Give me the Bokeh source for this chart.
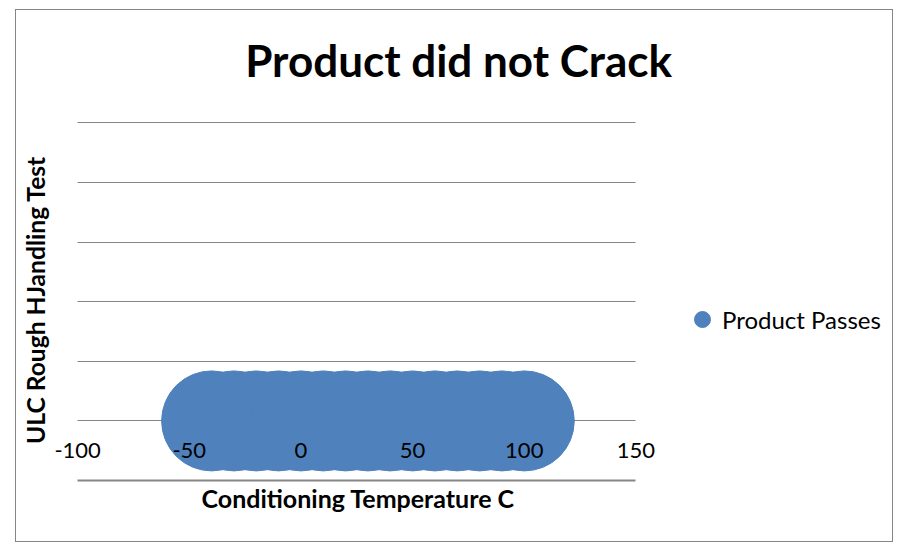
import math
from bokeh.plotting import figure
from bokeh.models import FixedTicker, Legend, LegendItem, Range1d, Label, Title
from bokeh.embed import file_html
from bokeh.resources import INLINE

# ---- data ----
temps = [-40, -30, -20, -10, 0, 10, 20, 30, 40, 50, 60, 70, 80, 90, 100]
passes = [0, 0, 0, 0, 0, 0, 0, 0, 0, 0, 0, 0, 0, 0, 0]
x_ticks = [-100, -50, 0, 50, 100, 150]
x_tick_labels = ["-100", "-50", "0", "50", "100", "150"]
y_grid = [-1, 0, 1, 2, 3, 4, 5]
x_bounds = (-100, 150)
y_bounds = (-1, 5)

title_text = "Product did not Crack"
x_title = "Conditioning Temperature C"
y_title = "ULC Rough HJandling Test"
series_name = "Product Passes"
FONT = "Lato"
BLUE = "#4F81BD"
GRAY = "#868686"

# the frame spans the chart area plus the title / legend space; axis and grid
# are bounded to the plot area itself
p = figure(width=878, height=533, output_backend="svg", toolbar_location=None,
           x_range=Range1d(-127.38, 265.8), y_range=Range1d(-1, 6.888),
           min_border_left=0, min_border_right=0,
           min_border_top=0, min_border_bottom=63)
p.margin = (9, 0, 0, 15)
p.styles = {"border": "1px solid " + GRAY, "box-sizing": "border-box"}
p.outline_line_color = None
p.background_fill_color = "white"
p.border_fill_color = "white"

# grids
p.xgrid.visible = False
p.ygrid.ticker = FixedTicker(ticks=y_grid)
p.ygrid.grid_line_color = GRAY
p.ygrid.grid_line_width = 1
p.ygrid.cross_bounds = x_bounds

# x axis (tick labels sit inside the plot area, as in the reference)
p.xaxis.bounds = x_bounds
p.xaxis.ticker = FixedTicker(ticks=x_ticks)
p.xaxis.major_label_overrides = {t: s for t, s in zip(x_ticks, x_tick_labels)}
p.xaxis.major_tick_line_color = None
p.xaxis.minor_tick_line_color = None
p.xaxis.major_tick_out = 0
p.xaxis.major_tick_in = 0
p.xaxis.minor_tick_out = 0
p.xaxis.major_label_standoff = -38
p.xaxis.major_label_text_font = FONT
p.xaxis.major_label_text_font_size = "22px"
p.xaxis.major_label_text_color = "black"
p.xaxis.axis_line_color = GRAY
p.xaxis.axis_line_width = 2

# y axis: no line, ticks or labels in the reference
p.yaxis.visible = False

# x axis title, under the bounded plot area
p.add_layout(Title(text=x_title, align="left", offset=185, standoff=0,
                   text_font=FONT, text_font_style="bold",
                   text_font_size="25px", text_color="black"), "below")

# y axis title, vertical, beside the plot area
p.add_layout(Label(x=-118.85, y=2.03, text=y_title, angle=math.pi / 2,
                   text_align="center", text_baseline="middle",
                   text_font=FONT, text_font_style="bold",
                   text_font_size="24.6px", text_color="black"))

# points
r = p.scatter(temps, passes, size=100, color=BLUE, line_color=BLUE)

# chart title
p.add_layout(Label(x=70.6, y=6.06, text=title_text, text_align="center",
                   text_baseline="middle", text_font=FONT,
                   text_font_style="bold", text_font_size="44px",
                   text_color="black"))

# legend
legend = Legend(items=[LegendItem(label=series_name, renderers=[r])],
                location=(666, 141), glyph_width=40, glyph_height=40,
                label_standoff=0, padding=0, margin=0,
                border_line_color=None, background_fill_alpha=0,
                label_text_font=FONT, label_text_font_size="24px",
                label_text_color="black", label_text_baseline="middle")
p.add_layout(legend, "center")

open("out.html", "w").write(file_html(p, INLINE))
